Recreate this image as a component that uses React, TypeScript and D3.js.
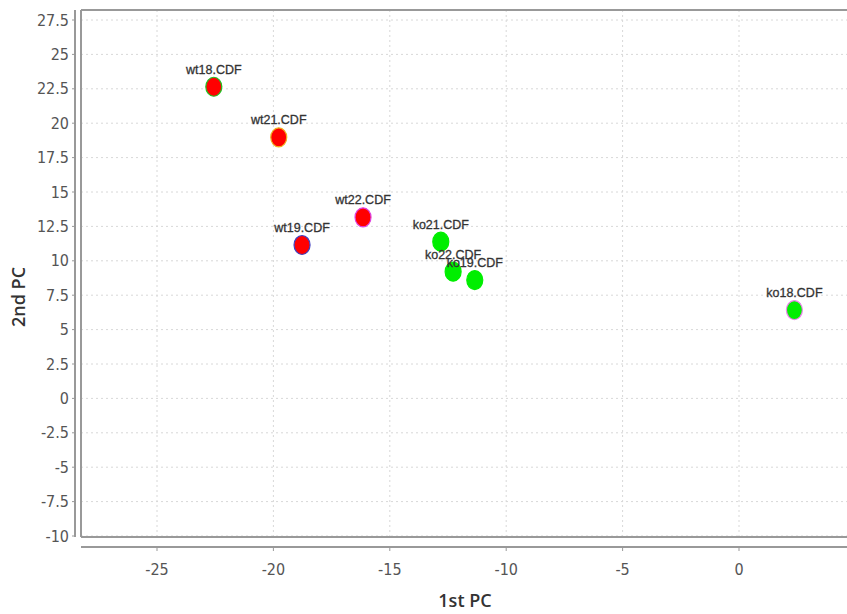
import React from "react";
import * as d3 from "d3";

const names = ["wt18.CDF", "wt21.CDF", "wt22.CDF", "wt19.CDF", "ko21.CDF", "ko22.CDF", "ko19.CDF", "ko18.CDF"];
const pc1 = [-22.56, -19.77, -16.15, -18.77, -12.81, -12.28, -11.35, 2.38];
const pc2 = [22.65, 18.97, 13.16, 11.15, 11.39, 9.21, 8.6, 6.42];
const groups = ["wt", "wt", "wt", "wt", "ko", "ko", "ko", "ko"];
const edges = ["#22c022", "#f0b020", "#e040e0", "#4040c0", "#00ee00", "#00ee00", "#00ee00", "#f080f0"];
const xTicks = [-25, -20, -15, -10, -5, 0];
const yTicks = [-10, -7.5, -5, -2.5, 0, 2.5, 5, 7.5, 10, 12.5, 15, 17.5, 20, 22.5, 25, 27.5];

export default function App() {
  const W = 847, H = 614;
  const x = d3.scaleLinear().domain([-25, 0]).range([157, 739]);
  const y = d3.scaleLinear().domain([-10, 27.5]).range([536, 20]);
  const left = 81, top = 10, right = 847, bottom = 537;
  const axisY = 547, axisX = 75;
  const tickFont = "'DejaVu Sans Condensed', 'Liberation Sans Narrow', Arial, sans-serif";
  const fill = (g: string) => (g === "wt" ? "#ff0000" : "#00ee00");
  const order = [0, 1, 2, 3, 4, 5, 6, 7];
  return (
    <svg width={W} height={H} style={{ position: "absolute", left: 0, top: 0, background: "#fff" }}>
      <rect x={0} y={0} width={W} height={H} fill="#fff" />
      {/* grid */}
      {xTicks.map((t) => (
        <line key={"gx" + t} x1={x(t)} x2={x(t)} y1={top} y2={bottom} stroke="#d8d8d8" strokeDasharray="2,3" />
      ))}
      {yTicks.map((t) => (
        <line key={"gy" + t} x1={left} x2={right} y1={y(t)} y2={y(t)} stroke="#d8d8d8" strokeDasharray="2,3" />
      ))}
      {/* plot box */}
      <line x1={left} x2={right} y1={top} y2={top} stroke="#999" strokeWidth={2} />
      <line x1={left} x2={left} y1={top} y2={bottom} stroke="#999" strokeWidth={2} />
      <line x1={left} x2={right} y1={bottom} y2={bottom} stroke="#999" strokeWidth={2} />
      {/* axes */}
      <line x1={axisX} x2={axisX} y1={top} y2={bottom} stroke="#999" strokeWidth={2} />
      <line x1={left} x2={right} y1={axisY} y2={axisY} stroke="#999" strokeWidth={2} />
      {yTicks.map((t) => (
        <g key={"yt" + t}>
          <line x1={axisX - 3} x2={axisX} y1={y(t)} y2={y(t)} stroke="#999" />
          <text x={axisX - 6} y={y(t)} dy="0.35em" textAnchor="end" fontSize={16} fill="#555" fontFamily={tickFont}>
            {t}
          </text>
        </g>
      ))}
      {xTicks.map((t) => (
        <g key={"xt" + t}>
          <line x1={x(t)} x2={x(t)} y1={axisY} y2={axisY + 4} stroke="#999" />
          <text x={x(t)} y={axisY + 28} textAnchor="middle" fontSize={16} fill="#555" fontFamily={tickFont}>
            {t}
          </text>
        </g>
      ))}
      {/* axis titles */}
      <text x={465} y={607} textAnchor="middle" fontSize={18} fontWeight={600} fill="#333" fontFamily="'Open Sans', 'Noto Sans', sans-serif">
        1st PC
      </text>
      <text
        transform={`translate(25,${297}) rotate(-90)`}
        textAnchor="middle"
        fontSize={18}
        fontWeight={600}
        fill="#333"
        fontFamily="'Open Sans', 'Noto Sans', sans-serif"
      >
        2nd PC
      </text>
      {/* points */}
      {order.map((i) => (
        <ellipse key={"p" + i} cx={x(pc1[i])} cy={y(pc2[i])} rx={8} ry={9.5} fill={fill(groups[i])} stroke={edges[i]} strokeWidth={1.2} />
      ))}
      {order.map((i) => (
        <text
          key={"l" + i}
          x={x(pc1[i])}
          y={y(pc2[i]) - 13}
          textAnchor="middle"
          fontSize={12.5}
          fill="#333"
          stroke="#333"
          strokeWidth={0.3}
          fontFamily="'Liberation Sans', Arial, sans-serif"
        >
          {names[i]}
        </text>
      ))}
    </svg>
  );
}
